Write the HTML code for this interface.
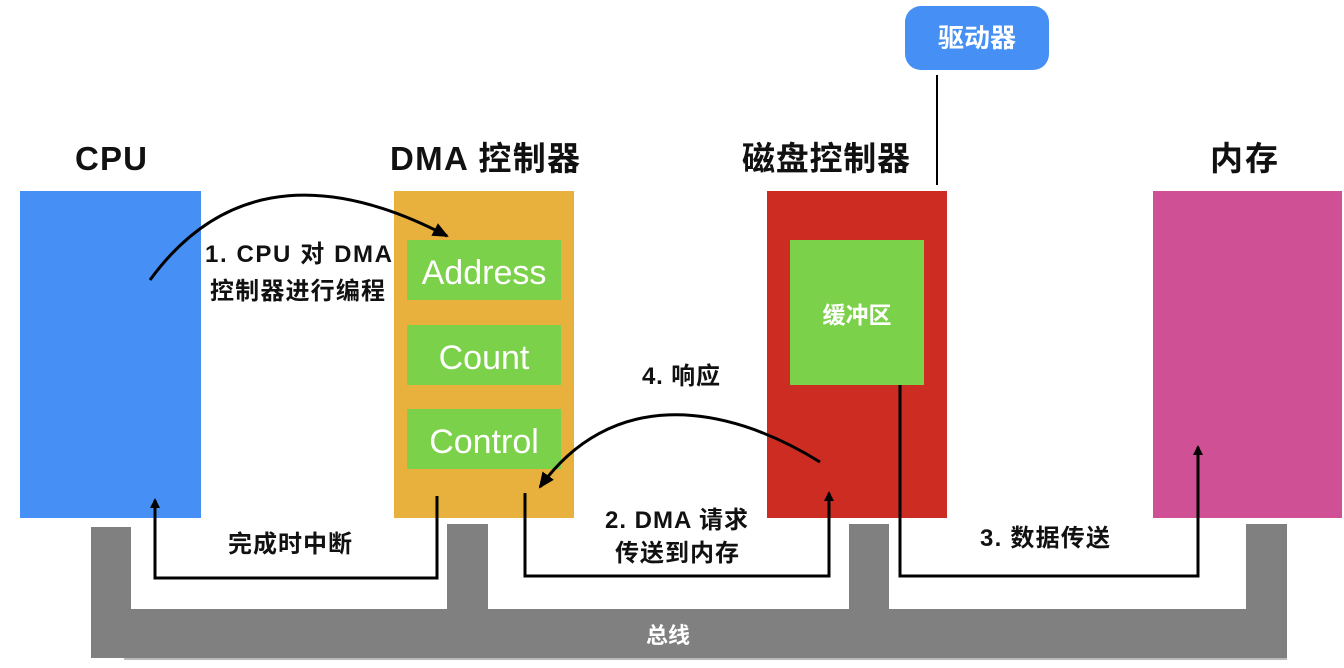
<!DOCTYPE html>
<html><head><meta charset="utf-8"><style>
html,body{margin:0;padding:0;background:#fff;width:1344px;height:668px;overflow:hidden}
text{font-family:"Liberation Sans","Noto Sans CJK SC",sans-serif}
</style></head><body>
<svg width="1344" height="668" viewBox="0 0 1344 668" xmlns="http://www.w3.org/2000/svg">
<defs><marker id="a" markerWidth="10" markerHeight="10" refX="8" refY="5" orient="auto" markerUnits="userSpaceOnUse" viewBox="0 0 10 10"><path d="M0,0 L10,5 L0,10 Z" fill="#000"/></marker>
<marker id="b" markerWidth="16" markerHeight="16" refX="14" refY="8" orient="auto" markerUnits="userSpaceOnUse" viewBox="0 0 16 16"><path d="M0,1 L16,8 L0,15 Z" fill="#000"/></marker></defs>
<g fill="#808080">
<rect x="91" y="527" width="40" height="131"/>
<rect x="447" y="524" width="41" height="90"/>
<rect x="849" y="524" width="40" height="90"/>
<rect x="1246" y="524" width="41" height="134"/>
<rect x="91" y="609" width="1196" height="49"/>
</g>
<rect x="124" y="658" width="1163" height="2" fill="#bbb"/>
<text x="668" y="643" font-size="22" fill="#fff" text-anchor="middle" font-weight="bold">总线</text>
<rect x="20" y="191" width="181" height="327" fill="#4690f5"/>
<rect x="394" y="191" width="180" height="327" fill="#e8b03c"/>
<rect x="407" y="240" width="154" height="60" fill="#7cd14a"/>
<rect x="407" y="325" width="154" height="60" fill="#7cd14a"/>
<rect x="407" y="409" width="154" height="60" fill="#7cd14a"/>
<text x="484" y="284" font-size="34" fill="#fff" text-anchor="middle">Address</text>
<text x="484" y="369" font-size="34" fill="#fff" text-anchor="middle">Count</text>
<text x="484" y="453" font-size="34" fill="#fff" text-anchor="middle">Control</text>
<rect x="767" y="191" width="180" height="327" fill="#cd2c22"/>
<rect x="790" y="240" width="134" height="145" fill="#7cd14a"/>
<text x="857" y="323" font-size="23" fill="#fff" text-anchor="middle" font-weight="bold">缓冲区</text>
<rect x="1153" y="191" width="189" height="327" fill="#d05096"/>
<rect x="905" y="6" width="144" height="64" rx="16" fill="#4690f5"/>
<text x="977" y="47" font-size="26" fill="#fff" text-anchor="middle" font-weight="bold">驱动器</text>
<line x1="937" y1="75" x2="937" y2="185" stroke="#000" stroke-width="2"/>
<g font-size="33" font-weight="bold" fill="#111">
<text x="75" y="170" textLength="72">CPU</text>
<text x="390" y="170" textLength="190">DMA 控制器</text>
<text x="742" y="170" textLength="168">磁盘控制器</text>
<text x="1210" y="170" textLength="68">内存</text>
</g>
<g font-size="24" font-weight="bold" fill="#111">
<text x="205" y="262" textLength="187">1. CPU  对 DMA</text>
<text x="210" y="299" textLength="175">控制器进行编程</text>
<text x="642" y="384" textLength="78">4. 响应</text>
<text x="228" y="552" textLength="124">完成时中断</text>
<text x="605" y="528" textLength="143">2. DMA 请求</text>
<text x="615" y="561" textLength="124">传送到内存</text>
<text x="980" y="546" textLength="130">3. 数据传送</text>
</g>
<g fill="none" stroke="#000" stroke-width="3">
<path d="M150,280 C230,170 340,180 447,236" marker-end="url(#b)"/>
<path d="M820,462 C720,400 610,390 540,487" marker-end="url(#b)"/>
<path d="M437,496 V578 H155 V500" marker-end="url(#a)"/>
<path d="M525,493 V576 H829 V493" marker-end="url(#a)"/>
<path d="M900,385 V576 H1198 V447" marker-end="url(#a)"/>
</g>
</svg>
</body></html>
